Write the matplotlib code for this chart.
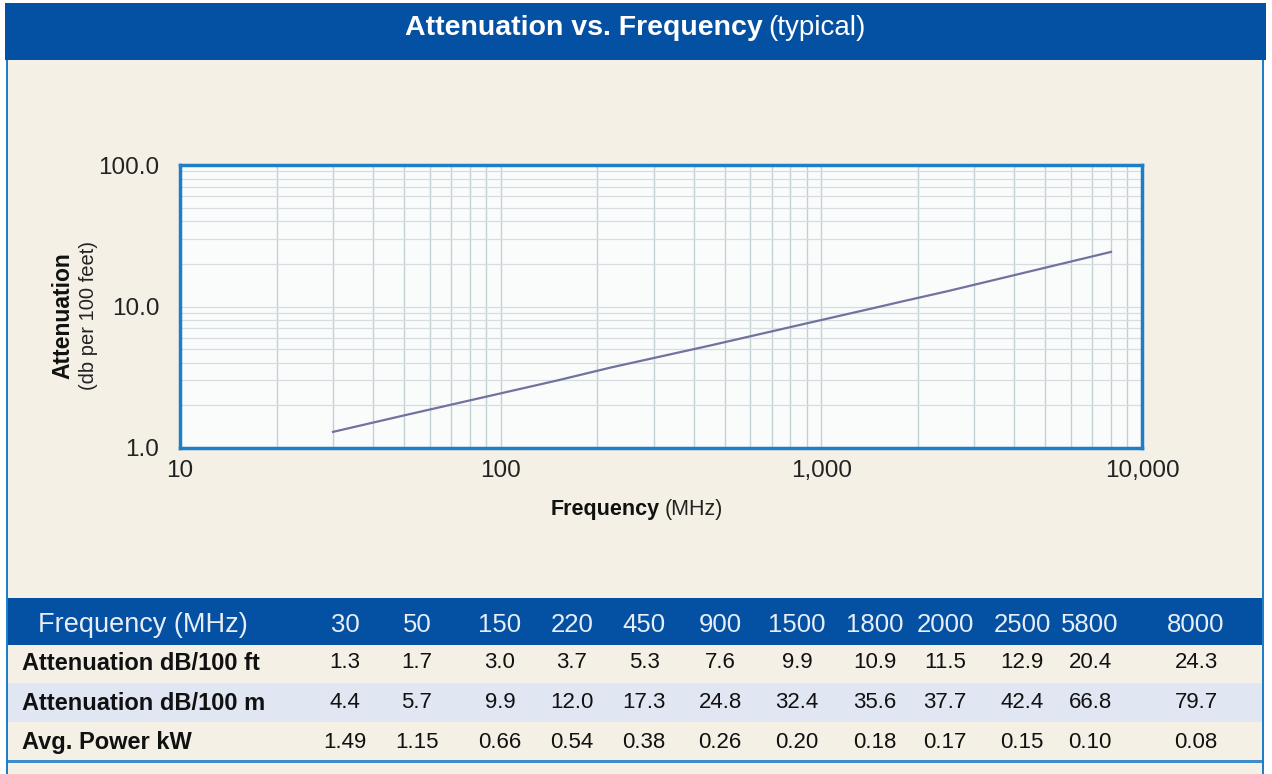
import matplotlib
matplotlib.use("Agg")
import matplotlib.pyplot as plt
from matplotlib.patches import Rectangle
from matplotlib.ticker import FixedLocator, FixedFormatter, LogLocator, NullFormatter

plt.rcParams["font.family"] = ["Liberation Sans", "DejaVu Sans"]

# Data from the table
freqs = [30, 50, 150, 220, 450, 900, 1500, 1800, 2000, 2500, 5800, 8000]
att_ft = [1.3, 1.7, 3.0, 3.7, 5.3, 7.6, 9.9, 10.9, 11.5, 12.9, 20.4, 24.3]
att_m = [4.4, 5.7, 9.9, 12.0, 17.3, 24.8, 32.4, 35.6, 37.7, 42.4, 66.8, 79.7]
power_kw = [1.49, 1.15, 0.66, 0.54, 0.38, 0.26, 0.20, 0.18, 0.17, 0.15, 0.10, 0.08]

x_ticks = [10, 100, 1000, 10000]
x_tick_labels = ["10", "100", "1,000", "10,000"]
y_ticks = [1, 10, 100]
y_tick_labels = ["1.0", "10.0", "100.0"]

W, H = 1272, 774
BLUE = "#0450A3"
BEIGE = "#F4F0E6"
ROW_ALT = "#E1E6F3"
FRAME = "#1F7FC6"

fig = plt.figure(figsize=(W / 100, H / 100), dpi=100)
fig.patch.set_facecolor("white")


def px_rect(x0, y0, x1, y1, color):
    # rectangle given in pixel coords (top-left origin), kept behind the axes
    fig.patches.append(Rectangle((x0 / W, 1 - y1 / H), (x1 - x0) / W, (y1 - y0) / H,
                                 transform=fig.transFigure, facecolor=color,
                                 edgecolor="none", zorder=-10))


# background panels
px_rect(6, 60, 1264, 774, FRAME)
px_rect(8, 60, 1262, 774, BEIGE)
px_rect(5, 3, 1266, 60, BLUE)
px_rect(8, 598, 1262, 645, BLUE)
px_rect(8, 683, 1262, 722, ROW_ALT)
px_rect(8, 760, 1262, 763, "#3F8BCB")

# title
fig.text(763 / W, 1 - 28 / H, "Attenuation vs. Frequency", ha="right", va="center",
         fontsize=20.5, fontweight="bold", color="white")
fig.text(768 / W, 1 - 28 / H, "(typical)", ha="left", va="center",
         fontsize=20, color="white")

# chart
ax = fig.add_axes([180 / W, 1 - 448 / H, (1142 - 180) / W, (448 - 165) / H])
ax.set_facecolor("#FAFCFC")
ax.plot(freqs, att_ft, color="#72729E", lw=1.6, zorder=3)
ax.set_xscale("log")
ax.set_yscale("log")
ax.set_xlim(10, 10000)
ax.set_ylim(1, 100)

ax.xaxis.set_major_locator(FixedLocator(x_ticks))
ax.xaxis.set_major_formatter(FixedFormatter(x_tick_labels))
ax.yaxis.set_major_locator(FixedLocator(y_ticks))
ax.yaxis.set_major_formatter(FixedFormatter(y_tick_labels))
ax.xaxis.set_minor_locator(LogLocator(base=10, subs=range(2, 10)))
ax.yaxis.set_minor_locator(LogLocator(base=10, subs=range(2, 10)))
ax.xaxis.set_minor_formatter(NullFormatter())
ax.yaxis.set_minor_formatter(NullFormatter())
ax.tick_params(which="both", length=0)
ax.tick_params(axis="y", labelsize=17.5, pad=15, colors="#222222")
ax.tick_params(axis="x", labelsize=17.5, pad=9, colors="#222222")
ax.grid(True, which="both", axis="x", color="#C2D0D4", lw=1.0)
ax.grid(True, which="both", axis="y", color="#D6DDE0", lw=0.9)
ax.set_axisbelow(True)
for s in ax.spines.values():
    s.set_color(FRAME)
    s.set_linewidth(2.5)

# axis labels
fig.text(63 / W, 1 - 316 / H, "Attenuation", rotation=90, ha="center", va="center",
         fontsize=16.5, fontweight="bold", color="#111111")
fig.text(89 / W, 1 - 315 / H, "(db per 100 feet)", rotation=90, ha="center", va="center",
         fontsize=14.5, color="#222222")
fig.text(660 / W, 1 - 510 / H, "Frequency", ha="right", va="center",
         fontsize=15.5, fontweight="bold", color="#111111")
fig.text(665 / W, 1 - 510 / H, "(MHz)", ha="left", va="center",
         fontsize=15.5, color="#222222")

# table
col_x = [345, 417, 500, 572, 644, 720, 797, 875, 945, 1022, 1090, 1196]
hdr_y = 625
row_y = [663, 703, 742]

fig.text(38 / W, 1 - hdr_y / H, "Frequency (MHz)", ha="left", va="center",
         fontsize=19.5, color="#E8EEF8")
for cx, f in zip(col_x, freqs):
    fig.text(cx / W, 1 - hdr_y / H, str(f), ha="center", va="center",
             fontsize=18.5, color="#E8EEF8")

rows = [
    ("Attenuation dB/100 ft", [f"{v:.1f}" for v in att_ft]),
    ("Attenuation dB/100 m", [f"{v:.1f}" for v in att_m]),
    ("Avg. Power kW", [f"{v:.2f}" for v in power_kw]),
]
for ry, (label, vals) in zip(row_y, rows):
    fig.text(22 / W, 1 - ry / H, label, ha="left", va="center",
             fontsize=17, fontweight="bold", color="#111111")
    for cx, v in zip(col_x, vals):
        fig.text(cx / W, 1 - ry / H, v, ha="center", va="center",
                 fontsize=16, color="#111111")

plt.savefig("out.png", dpi=100, facecolor=fig.get_facecolor())
